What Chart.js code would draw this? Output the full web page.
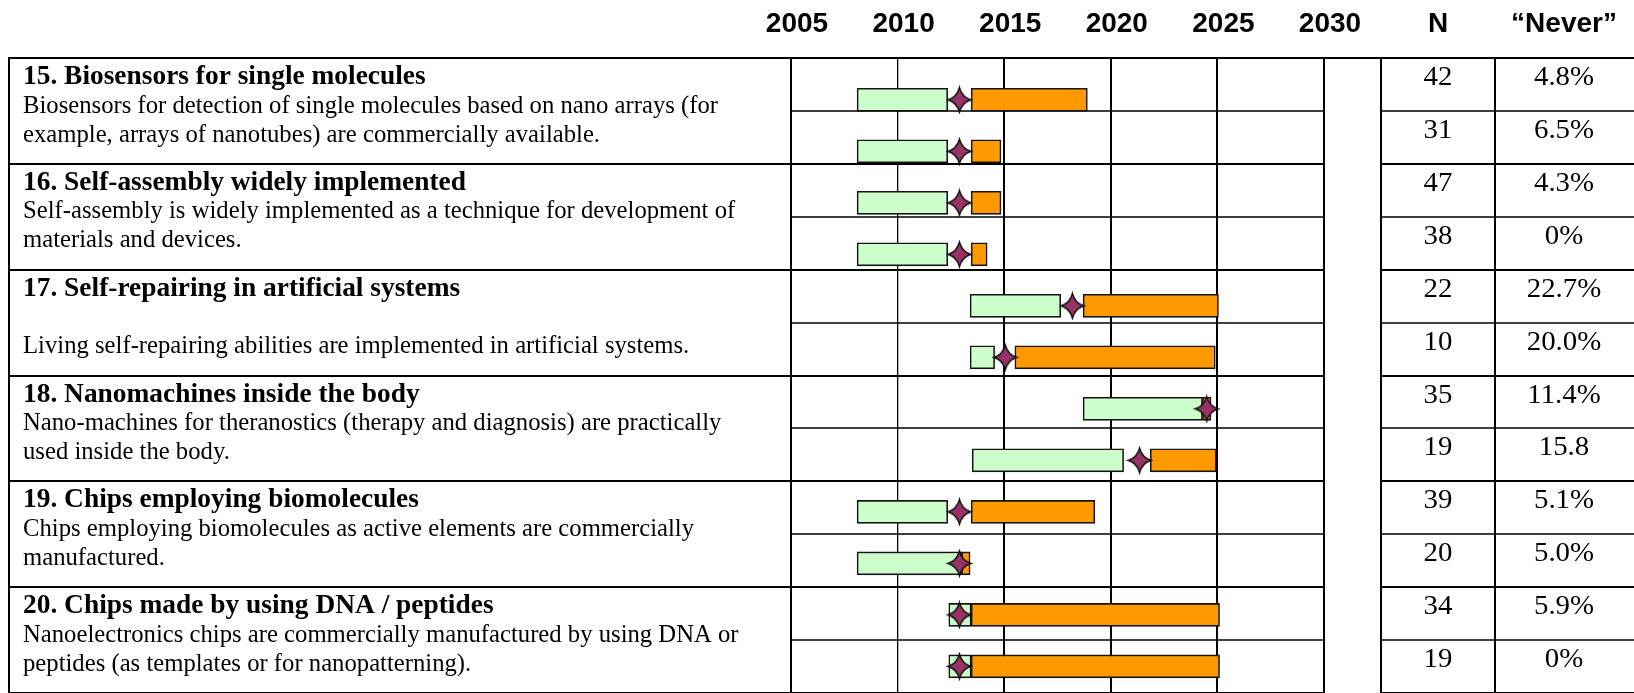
<!DOCTYPE html>
<html>
<head>
<meta charset="utf-8">
<script src="https://cdn.jsdelivr.net/npm/chart.js@4.4.1/dist/chart.umd.min.js"></script>
<style>
html,body{margin:0;padding:0;background:#fff;overflow:hidden;}
canvas{display:block;}
</style>
</head>
<body>
<canvas id="c" width="1634" height="698" style="width:1634px;height:698px"></canvas>
<script>
// ---------------- data ----------------
const yearTicks = ['2005', '2010', '2015', '2020', '2025', '2030'];

const itemTitles = [
  '15. Biosensors for single molecules',
  '16. Self-assembly widely implemented',
  '17. Self-repairing in artificial systems',
  '18. Nanomachines inside the body',
  '19. Chips employing biomolecules',
  '20. Chips made by using DNA / peptides'
];
const itemDescLines = [
  ['Biosensors for detection of single molecules based on nano arrays (for', 'example, arrays of nanotubes) are commercially available.'],
  ['Self-assembly is widely implemented as a technique for development of', 'materials and devices.'],
  ['', 'Living self-repairing abilities are implemented in artificial systems.'],
  ['Nano-machines for theranostics (therapy and diagnosis) are practically', 'used inside the body.'],
  ['Chips employing biomolecules as active elements are commercially', 'manufactured.'],
  ['Nanoelectronics chips are commercially manufactured by using DNA or', 'peptides (as templates or for nanopatterning).']
];

// two survey rows per item (12 rows)
const respondents = ['42', '31', '47', '38', '22', '10', '35', '19', '39', '20', '34', '19'];
const neverShare  = ['4.8%', '6.5%', '4.3%', '0%', '22.7%', '20.0%', '11.4%', '15.8', '5.1%', '5.0%', '5.9%', '0%'];

const lowStart  = [2008.1, 2008.1, 2008.1, 2008.1, 2013.4, 2013.4, 2018.7, 2013.5, 2008.1, 2008.1, 2012.4, 2012.4];
const lowEnd    = [2012.35, 2012.35, 2012.35, 2012.35, 2017.65, 2014.55, 2024.3, 2020.6, 2012.35, 2013.0, 2013.45, 2013.45];
const medians   = [2012.9, 2012.9, 2012.9, 2012.9, 2018.2, 2015.05, 2024.5, 2021.35, 2012.9, 2012.9, 2012.9, 2012.9];
const highStart = [2013.45, 2013.45, 2013.45, 2013.45, 2018.7, 2015.5, 2024.3, 2021.85, 2013.45, 2013.0, 2013.45, 2013.45];
const highEnd   = [2018.9, 2014.85, 2014.85, 2014.2, 2025.05, 2024.9, 2024.7, 2024.95, 2019.25, 2013.4, 2025.1, 2025.1];

// ---------------- layout / style ----------------
const TABLE = { left: 9, textX: 23, blankLeft: 1324, nLeft: 1381, neverLeft: 1495, right: 1634 };
const N_CENTER = 1438, NEVER_CENTER = 1564;
const AXIS_TOP_PAD = 8.6, AXIS_HEIGHT = 49.4, TICK_PAD = 17, TICK_SIZE = 28;
const HEAD_FONT = 'bold 28px "Liberation Sans", Arial, sans-serif';
const TITLE_FONT = 'bold 27px "Liberation Serif", "Times New Roman", serif';
const DESC_FONT = '24.4px "Liberation Serif", "Times New Roman", serif';
const NUM_FONT = '28px "Liberation Serif", "Times New Roman", serif';
const TITLE_SX = 1.015, DESC_SX = 1.012;

function makeStar() {
  const c = document.createElement('canvas');
  c.width = 27; c.height = 29;
  const g = c.getContext('2d');
  const cx = 13.5, cy = 14.5, rx = 11.3, ry = 12.2, k = 2.6;
  g.beginPath();
  g.moveTo(cx, cy - ry);
  g.quadraticCurveTo(cx + k, cy - k, cx + rx, cy);
  g.quadraticCurveTo(cx + k, cy + k, cx, cy + ry);
  g.quadraticCurveTo(cx - k, cy + k, cx - rx, cy);
  g.quadraticCurveTo(cx - k, cy - k, cx, cy - ry);
  g.closePath();
  g.fillStyle = '#993366';
  g.fill();
  g.lineWidth = 1.5;
  g.strokeStyle = '#111';
  g.stroke();
  return c;
}

function stretchText(ctx, text, x, y, font, sx, align) {
  ctx.save();
  ctx.translate(x, y);
  ctx.scale(sx, 1);
  ctx.font = font;
  ctx.textAlign = align || 'left';
  ctx.fillText(text, 0, 0);
  ctx.restore();
}

function hLine(ctx, x1, x2, y, w) {
  ctx.lineWidth = w;
  ctx.beginPath();
  ctx.moveTo(x1, y);
  ctx.lineTo(x2, y);
  ctx.stroke();
}
function vLine(ctx, x, y1, y2, w) {
  ctx.lineWidth = w;
  ctx.beginPath();
  ctx.moveTo(x, y1);
  ctx.lineTo(x, y2);
  ctx.stroke();
}

const tablePlugin = {
  id: 'surveyTable',
  beforeDatasetsDraw(chart) {
    const ctx = chart.ctx, yT = chart.scales.yT, area = chart.chartArea;
    ctx.save();
    ctx.strokeStyle = '#000';
    const rows = respondents.length;
    for (let r = 0; r <= rows; r++) {
      const y = Math.round(yT.getPixelForValue(r));
      if (r === 0) {
        hLine(ctx, TABLE.left - 1, TABLE.right, y, 2);
      } else if (r % 2 === 0) {
        hLine(ctx, TABLE.left - 1, TABLE.blankLeft, y, 2);
        hLine(ctx, TABLE.nLeft, TABLE.right, y, 2);
      } else {
        hLine(ctx, area.left, TABLE.blankLeft, y, 1.5);
        hLine(ctx, TABLE.nLeft, TABLE.right, y, 1.5);
      }
    }
    const top = Math.round(yT.getPixelForValue(0));
    const bottom = yT.getPixelForValue(rows) + 2;
    [TABLE.left, TABLE.nLeft, TABLE.neverLeft].forEach(x => vLine(ctx, x, top - 1, bottom, 2));
    ctx.restore();
  },
  afterDraw(chart) {
    const ctx = chart.ctx, yT = chart.scales.yT, xs = chart.scales.x;
    ctx.save();
    ctx.fillStyle = '#000';
    // column headers, aligned with the year tick labels
    const headY = xs.bottom - TICK_PAD - TICK_SIZE * 1.2 / 2;
    ctx.font = HEAD_FONT;
    ctx.textAlign = 'center';
    ctx.textBaseline = 'middle';
    ctx.fillText('N', N_CENTER, headY);
    ctx.fillText('\u201CNever\u201D', NEVER_CENTER, headY);
    // item texts
    ctx.textBaseline = 'alphabetic';
    itemTitles.forEach((t, i) => {
      const top = yT.getPixelForValue(2 * i);
      stretchText(ctx, t, TABLE.textX, top + 26, TITLE_FONT, TITLE_SX);
      itemDescLines[i].forEach((ln, j) => {
        if (ln) stretchText(ctx, ln, TABLE.textX, top + 54.5 + 29 * j, DESC_FONT, DESC_SX);
      });
    });
    // N and "Never" cells
    respondents.forEach((n, k) => {
      const top = yT.getPixelForValue(k);
      stretchText(ctx, n, N_CENTER, top + 27, NUM_FONT, 1.03, 'center');
      stretchText(ctx, neverShare[k], NEVER_CENTER, top + 27, NUM_FONT, 1.03, 'center');
    });
    ctx.restore();
  }
};

const star = makeStar();

new Chart(document.getElementById('c'), {
  type: 'bar',
  data: {
    datasets: [
      {
        type: 'scatter',
        label: 'Median',
        data: medians.map((m, i) => ({ x: m, y: i })),
        pointStyle: star,
        order: 0,
        xAxisID: 'x', yAxisID: 'y'
      },
      {
        label: 'Median to upper quartile',
        data: highStart.map((s, i) => ({ x: [s, highEnd[i]], y: i })),
        backgroundColor: '#FF9900',
        borderColor: '#151515',
        borderWidth: 1.6,
        borderSkipped: false,
        barThickness: 23,
        grouped: false,
        order: 1,
        xAxisID: 'x', yAxisID: 'y'
      },
      {
        label: 'Lower quartile to median',
        data: lowStart.map((s, i) => ({ x: [s, lowEnd[i]], y: i })),
        backgroundColor: '#CCFFCC',
        borderColor: '#151515',
        borderWidth: 1.6,
        borderSkipped: false,
        barThickness: 23,
        grouped: false,
        order: 2,
        xAxisID: 'x', yAxisID: 'y'
      }
    ]
  },
  options: {
    indexAxis: 'y',
    responsive: false,
    animation: false,
    events: [],
    layout: { padding: { left: 791, right: 310, top: AXIS_TOP_PAD, bottom: 1 } },
    plugins: { legend: { display: false }, tooltip: { enabled: false } },
    scales: {
      x: {
        type: 'linear',
        axis: 'x',
        position: 'top',
        min: 2005,
        max: 2030,
        offset: false,
        beginAtZero: false,
        afterBuildTicks: s => { s.ticks = yearTicks.map(t => ({ value: Number(t) })); },
        afterFit: s => { s.height = AXIS_HEIGHT; },
        ticks: {
          callback: v => String(v),
          font: { family: '"Liberation Sans", Arial, sans-serif', weight: 'bold', size: TICK_SIZE },
          color: '#000',
          padding: TICK_PAD,
          labelOffset: 6,
          maxRotation: 0,
          autoSkip: false
        },
        grid: {
          color: '#000',
          offset: false,
          drawTicks: false,
          lineWidth: c => (c.tick && c.tick.value === 2010) ? 1.3 : 2
        },
        border: { display: false }
      },
      y: {
        type: 'linear',
        axis: 'y',
        display: false,
        offset: false,
        reverse: true,
        min: -0.812,
        max: 11.517
      },
      yT: {
        type: 'linear',
        axis: 'y',
        display: false,
        offset: false,
        reverse: true,
        min: 0,
        max: 12
      }
    }
  },
  plugins: [tablePlugin]
});
</script>
</body>
</html>
